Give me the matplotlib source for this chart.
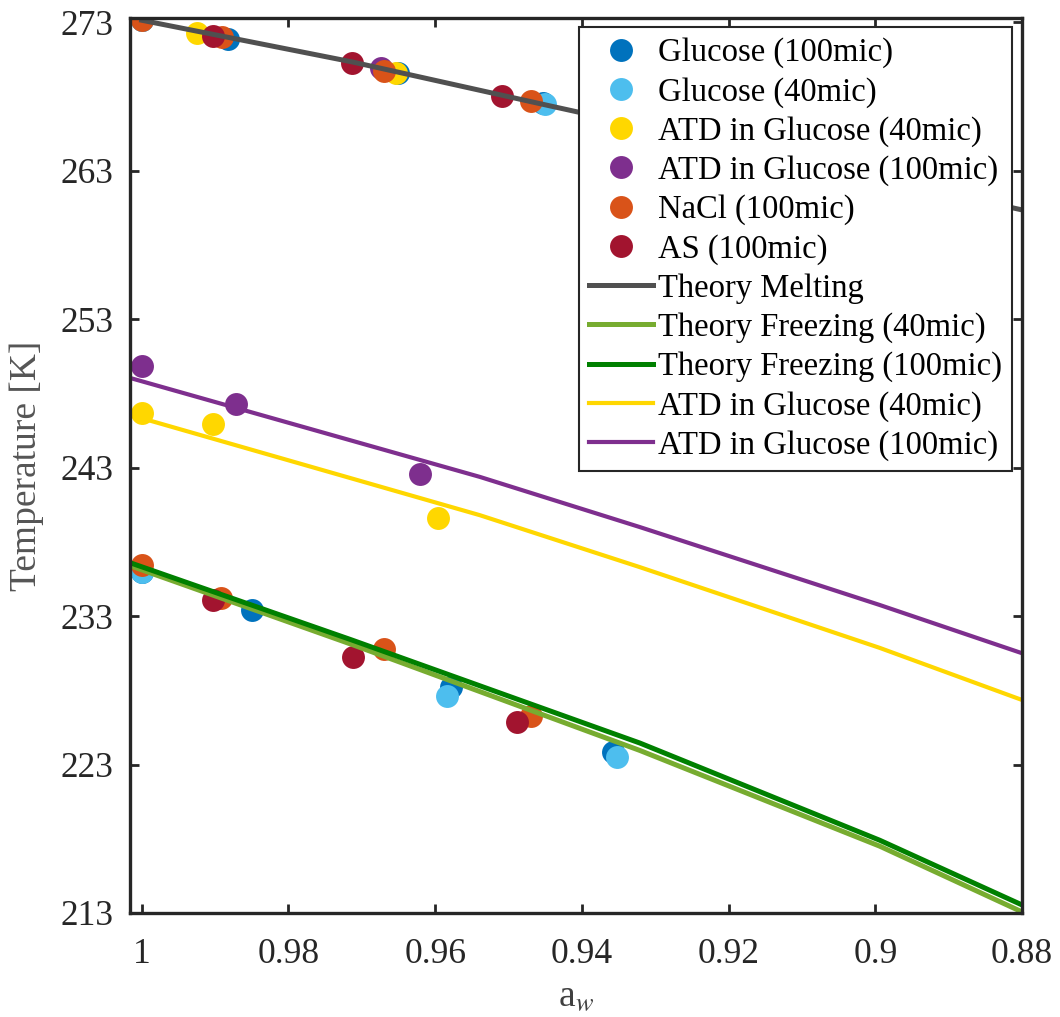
import matplotlib
matplotlib.use("Agg")
import matplotlib.pyplot as plt

plt.rcParams['font.family'] = ['Liberation Serif', 'DejaVu Serif']
plt.rcParams['mathtext.fontset'] = 'stix'

glu100_aw = [1.0, 0.9883, 0.965, 0.9453, 0.9358, 1.0, 0.985, 0.9579, 0.9358]
glu100_T = [273.15, 271.9, 269.6, 267.6, 266.8, 236.0, 233.4, 228.2, 223.85]

glu40_aw = [1.0, 0.945, 0.9352, 1.0, 0.9584, 0.9352]
glu40_T = [273.15, 267.5, 266.7, 235.98, 227.6, 223.5]

atd40_aw = [0.9924, 0.9654, 1.0, 0.9903, 0.9596]
atd40_T = [272.3, 269.6, 246.7, 245.95, 239.6]

atd100_aw = [0.9674, 1.0, 0.9872, 0.962]
atd100_T = [269.9, 249.86, 247.3, 242.58]

nacl_aw = [1.0, 0.989, 0.967, 0.947, 1.0, 0.9892, 0.967, 0.947]
nacl_T = [273.15, 272.0, 269.7, 267.7, 236.45, 234.2, 230.8, 226.3]

as_aw = [0.9903, 0.9714, 0.9509, 0.9903, 0.9712, 0.9489]
as_T = [272.1, 270.3, 268.05, 234.1, 230.25, 225.9]

# theory curves, vertices
melt_aw = [1.0, 0.9714, 0.945, 0.88]
melt_T = [273.15, 270.35, 267.45, 260.37]

curve_aw = [1.0016, 0.9714, 0.9321, 0.8994, 0.88]
frz40_T = [236.4, 231.1, 223.95, 217.5, 213.07]
frz100_T = [236.6, 231.4, 224.45, 217.9, 213.54]

atd_aw = [1.0016, 0.9539, 0.9321, 0.8994, 0.88]
atdline40_T = [246.56, 239.8, 236.3, 230.86, 227.35]
atdline100_T = [249.05, 242.38, 239.0, 233.75, 230.5]

fig = plt.figure(figsize=(10.6, 10.17), dpi=100)
ax = fig.add_axes([0.1226, 0.1023, 0.8416, 0.88])

ms = 16.5
ax.plot(glu100_aw, glu100_T, 'o', color='#0072BD', ms=ms, mec='none', label='Glucose (100mic)')
ax.plot(glu40_aw, glu40_T, 'o', color='#4DBEEE', ms=ms, mec='none', label='Glucose (40mic)')
ax.plot(atd40_aw, atd40_T, 'o', color='#FFD700', ms=ms, mec='none', label='ATD in Glucose (40mic)')
ax.plot(atd100_aw, atd100_T, 'o', color='#7E2F8E', ms=ms, mec='none', label='ATD in Glucose (100mic)')
ax.plot(nacl_aw, nacl_T, 'o', color='#D95319', ms=ms, mec='none', label='NaCl (100mic)')
ax.plot(as_aw, as_T, 'o', color='#A2142F', ms=ms, mec='none', label='AS (100mic)')

lw = 3.6
ax.plot(melt_aw, melt_T, '-', color='#505050', lw=lw, label='Theory Melting')
ax.plot(curve_aw, frz40_T, '-', color='#77AC30', lw=lw, label='Theory Freezing (40mic)')
ax.plot(curve_aw, frz100_T, '-', color='#008000', lw=lw, label='Theory Freezing (100mic)')
ax.plot(atd_aw, atdline40_T, '-', color='#FFD700', lw=3.0, label='ATD in Glucose (40mic)')
ax.plot(atd_aw, atdline100_T, '-', color='#7E2F8E', lw=3.0, label='ATD in Glucose (100mic)')

ax.set_xlim(1.0016, 0.88)
ax.set_ylim(213, 273.3)
ax.set_xticks([1, 0.98, 0.96, 0.94, 0.92, 0.9, 0.88])
ax.set_xticklabels(['1', '0.98', '0.96', '0.94', '0.92', '0.9', '0.88'])
ax.set_yticks([213, 223, 233, 243, 253, 263, 273])

for s in ax.spines.values():
    s.set_color('#262626')
    s.set_linewidth(2.4)
ax.tick_params(direction='in', length=6.5, width=2.0, colors='#262626',
               top=True, right=True, labelsize=25.5)
ax.tick_params(axis='x', pad=18)
ax.tick_params(axis='y', pad=12)

ax.set_xlabel(r'a$_{w}$', fontsize=27, color='#404040', labelpad=6)
ax.set_ylabel('Temperature [K]', fontsize=27, color='#555555', labelpad=12)

leg = ax.legend(loc='upper right', bbox_to_anchor=(0.9888, 0.9899), borderaxespad=0,
                fontsize=23.5, fancybox=False, framealpha=1, edgecolor='#262626',
                handlelength=1.95, handletextpad=0.15, labelspacing=0.26,
                borderpad=0.32, numpoints=1)
leg.get_frame().set_linewidth(1.5)

fig.savefig('out.png', dpi=100)
